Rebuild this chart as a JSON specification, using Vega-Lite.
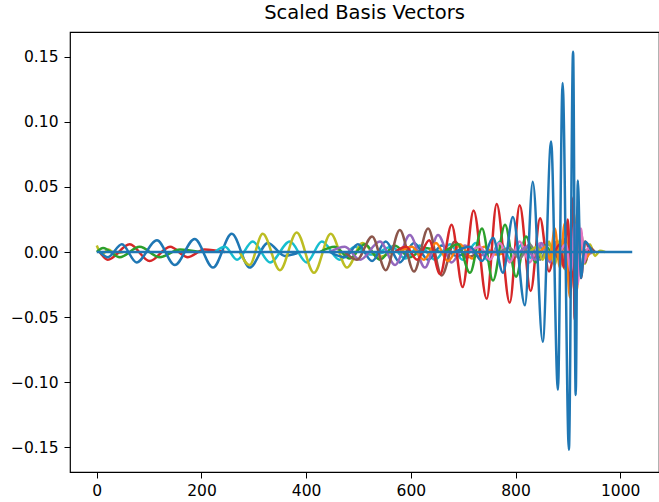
{
  "$schema": "https://vega.github.io/schema/vega-lite/v6.json",
  "width": 589,
  "height": 440,
  "autosize": {"type": "none"},
  "padding": {"left": 70, "top": 32, "right": 0, "bottom": 30},
  "background": "white",
  "title": {"text": "Scaled Basis Vectors", "fontSize": 19.5, "font": "DejaVu Sans", "fontWeight": "normal", "color": "black", "anchor": "middle", "offset": 9},
  "config": {
    "view": {"stroke": "black", "strokeWidth": 1.2},
    "axis": {"domain": false, "grid": false, "ticks": true, "tickColor": "black", "tickSize": 6, "tickWidth": 1, "labelFont": "DejaVu Sans", "labelFontSize": 15.5, "labelColor": "black", "title": null}
  },
  "data": {"values": [
    {"s":"s01","x":0,"y":0.005},{"s":"s01","x":10,"y":-0.002},{"s":"s01","x":22,"y":0.002},{"s":"s01","x":35,"y":-0.001},{"s":"s01","x":50,"y":0},
    {"s":"s02","x":6,"y":0},{"s":"s02","x":21,"y":-0.006},{"s":"s02","x":63,"y":0.006},{"s":"s02","x":101,"y":-0.007},{"s":"s02","x":140,"y":0.004},{"s":"s02","x":174,"y":-0.004},{"s":"s02","x":206,"y":0.002},{"s":"s02","x":245,"y":0},
    {"s":"s03","x":0,"y":0},{"s":"s03","x":12,"y":0.003},{"s":"s03","x":44,"y":-0.004},{"s":"s03","x":82,"y":0.004},{"s":"s03","x":120,"y":-0.004},{"s":"s03","x":159,"y":0.002},{"s":"s03","x":197,"y":0},
    {"s":"s04","x":6,"y":0},{"s":"s04","x":21,"y":-0.004},{"s":"s04","x":48,"y":0.006},{"s":"s04","x":76,"y":-0.008},{"s":"s04","x":115,"y":0.009},{"s":"s04","x":149,"y":-0.010},{"s":"s04","x":187,"y":0.010},{"s":"s04","x":222,"y":-0.012},{"s":"s04","x":258,"y":0.014},{"s":"s04","x":292,"y":-0.012},{"s":"s04","x":327,"y":0.007},{"s":"s04","x":359,"y":-0.003},{"s":"s04","x":388,"y":0},
    {"s":"s05","x":226,"y":0},{"s":"s05","x":245,"y":0.004},{"s":"s05","x":268,"y":-0.006},{"s":"s05","x":298,"y":0.008},{"s":"s05","x":331,"y":-0.008},{"s":"s05","x":369,"y":0.008},{"s":"s05","x":401,"y":-0.008},{"s":"s05","x":430,"y":0.008},{"s":"s05","x":464,"y":-0.006},{"s":"s05","x":493,"y":0.004},{"s":"s05","x":522,"y":-0.002},{"s":"s05","x":550,"y":0},
    {"s":"s06","x":273,"y":0},{"s":"s06","x":292,"y":-0.010},{"s":"s06","x":317,"y":0.014},{"s":"s06","x":350,"y":-0.014},{"s":"s06","x":382,"y":0.015},{"s":"s06","x":415,"y":-0.016},{"s":"s06","x":447,"y":0.014},{"s":"s06","x":478,"y":-0.012},{"s":"s06","x":508,"y":0.007},{"s":"s06","x":537,"y":-0.004},{"s":"s06","x":564,"y":0},
    {"s":"s07","x":426,"y":0},{"s":"s07","x":455,"y":0.004},{"s":"s07","x":483,"y":-0.005},{"s":"s07","x":512,"y":0.006},{"s":"s07","x":541,"y":-0.006},{"s":"s07","x":569,"y":0.005},{"s":"s07","x":598,"y":-0.004},{"s":"s07","x":627,"y":0.003},{"s":"s07","x":655,"y":0},
    {"s":"s08","x":541,"y":0},{"s":"s08","x":564,"y":0.004},{"s":"s08","x":589,"y":-0.005},{"s":"s08","x":617,"y":0.005},{"s":"s08","x":646,"y":-0.006},{"s":"s08","x":675,"y":0.006},{"s":"s08","x":699,"y":-0.006},{"s":"s08","x":724,"y":0.007},{"s":"s08","x":749,"y":-0.007},{"s":"s08","x":770,"y":0.008},{"s":"s08","x":793,"y":-0.007},{"s":"s08","x":812,"y":0.006},{"s":"s08","x":831,"y":-0.005},{"s":"s08","x":850,"y":0.004},{"s":"s08","x":869,"y":-0.003},{"s":"s08","x":889,"y":0},
    {"s":"s09","x":445,"y":0},{"s":"s09","x":474,"y":-0.004},{"s":"s09","x":499,"y":0.006},{"s":"s09","x":526,"y":-0.007},{"s":"s09","x":552,"y":0.008},{"s":"s09","x":579,"y":-0.008},{"s":"s09","x":606,"y":0.007},{"s":"s09","x":633,"y":-0.006},{"s":"s09","x":659,"y":0.005},{"s":"s09","x":686,"y":-0.003},{"s":"s09","x":713,"y":0},
    {"s":"s10","x":445,"y":0},{"s":"s10","x":474,"y":0.004},{"s":"s10","x":503,"y":-0.006},{"s":"s10","x":541,"y":0.008},{"s":"s10","x":570,"y":-0.010},{"s":"s10","x":598,"y":0.013},{"s":"s10","x":627,"y":-0.012},{"s":"s10","x":652,"y":0.013},{"s":"s10","x":678,"y":-0.008},{"s":"s10","x":703,"y":0.005},{"s":"s10","x":728,"y":-0.003},{"s":"s10","x":751,"y":0},
    {"s":"s11","x":474,"y":0},{"s":"s11","x":497,"y":-0.006},{"s":"s11","x":526,"y":0.012},{"s":"s11","x":552,"y":-0.014},{"s":"s11","x":579,"y":0.017},{"s":"s11","x":606,"y":-0.015},{"s":"s11","x":633,"y":0.018},{"s":"s11","x":659,"y":-0.018},{"s":"s11","x":684,"y":0.008},{"s":"s11","x":707,"y":-0.004},{"s":"s11","x":732,"y":0},
    {"s":"s12","x":579,"y":0},{"s":"s12","x":602,"y":0.004},{"s":"s12","x":625,"y":-0.006},{"s":"s12","x":648,"y":0.007},{"s":"s12","x":671,"y":-0.007},{"s":"s12","x":694,"y":0.006},{"s":"s12","x":717,"y":-0.005},{"s":"s12","x":740,"y":0.004},{"s":"s12","x":762,"y":-0.002},{"s":"s12","x":785,"y":0},
    {"s":"s13","x":570,"y":0},{"s":"s13","x":591,"y":0.004},{"s":"s13","x":612,"y":-0.006},{"s":"s13","x":635,"y":0.009},{"s":"s13","x":656,"y":-0.017},{"s":"s13","x":678,"y":0.021},{"s":"s13","x":699,"y":-0.027},{"s":"s13","x":720,"y":0.032},{"s":"s13","x":745,"y":-0.036},{"s":"s13","x":764,"y":0.037},{"s":"s13","x":789,"y":-0.039},{"s":"s13","x":808,"y":0.036},{"s":"s13","x":829,"y":-0.030},{"s":"s13","x":847,"y":0.026},{"s":"s13","x":864,"y":-0.015},{"s":"s13","x":879,"y":0.008},{"s":"s13","x":894,"y":-0.004},{"s":"s13","x":908,"y":0},
    {"s":"s14","x":665,"y":0},{"s":"s14","x":690,"y":0.006},{"s":"s14","x":713,"y":-0.016},{"s":"s14","x":736,"y":0.018},{"s":"s14","x":757,"y":-0.022},{"s":"s14","x":780,"y":0.021},{"s":"s14","x":801,"y":-0.019},{"s":"s14","x":820,"y":0.012},{"s":"s14","x":839,"y":-0.008},{"s":"s14","x":856,"y":0.005},{"s":"s14","x":875,"y":-0.003},{"s":"s14","x":894,"y":0},
    {"s":"s15","x":713,"y":0},{"s":"s15","x":732,"y":0.004},{"s":"s15","x":751,"y":-0.006},{"s":"s15","x":770,"y":0.007},{"s":"s15","x":789,"y":-0.008},{"s":"s15","x":808,"y":0.008},{"s":"s15","x":827,"y":-0.008},{"s":"s15","x":847,"y":0.007},{"s":"s15","x":864,"y":-0.006},{"s":"s15","x":881,"y":0.005},{"s":"s15","x":896,"y":-0.003},{"s":"s15","x":913,"y":0},
    {"s":"s16","x":770,"y":0},{"s":"s16","x":789,"y":0.003},{"s":"s16","x":808,"y":-0.005},{"s":"s16","x":827,"y":0.006},{"s":"s16","x":847,"y":-0.006},{"s":"s16","x":864,"y":0.006},{"s":"s16","x":879,"y":-0.005},{"s":"s16","x":894,"y":0.004},{"s":"s16","x":910,"y":-0.003},{"s":"s16","x":925,"y":0.002},{"s":"s16","x":942,"y":0},
    {"s":"s17","x":808,"y":0},{"s":"s17","x":822,"y":0.004},{"s":"s17","x":837,"y":-0.006},{"s":"s17","x":850,"y":0.007},{"s":"s17","x":866,"y":-0.008},{"s":"s17","x":879,"y":0.008},{"s":"s17","x":891,"y":-0.007},{"s":"s17","x":902,"y":0.006},{"s":"s17","x":913,"y":-0.006},{"s":"s17","x":925,"y":0.004},{"s":"s17","x":936,"y":-0.002},{"s":"s17","x":948,"y":0},
    {"s":"s18","x":828,"y":0},{"s":"s18","x":841,"y":0.004},{"s":"s18","x":852,"y":-0.006},{"s":"s18","x":864,"y":0.008},{"s":"s18","x":875,"y":-0.010},{"s":"s18","x":885,"y":0.010},{"s":"s18","x":894,"y":-0.013},{"s":"s18","x":904,"y":0.012},{"s":"s18","x":913,"y":-0.014},{"s":"s18","x":923,"y":0.012},{"s":"s18","x":933,"y":-0.009},{"s":"s18","x":942,"y":0.006},{"s":"s18","x":952,"y":-0.003},{"s":"s18","x":961,"y":0.001},{"s":"s18","x":971,"y":0},
    {"s":"s19","x":875,"y":0},{"s":"s19","x":885,"y":-0.006},{"s":"s19","x":894,"y":0.010},{"s":"s19","x":902,"y":-0.015},{"s":"s19","x":910,"y":0.018},{"s":"s19","x":917,"y":-0.020},{"s":"s19","x":925,"y":0.015},{"s":"s19","x":933,"y":-0.008},{"s":"s19","x":942,"y":0.003},{"s":"s19","x":952,"y":0},
    {"s":"s20","x":847,"y":0},{"s":"s20","x":858,"y":0.004},{"s":"s20","x":866,"y":-0.006},{"s":"s20","x":875,"y":0.018},{"s":"s20","x":885,"y":-0.012},{"s":"s20","x":894,"y":0.022},{"s":"s20","x":904,"y":-0.035},{"s":"s20","x":912,"y":0.030},{"s":"s20","x":917,"y":-0.030},{"s":"s20","x":923,"y":0.015},{"s":"s20","x":931,"y":-0.006},{"s":"s20","x":942,"y":0},
    {"s":"s21","x":875,"y":0},{"s":"s21","x":885,"y":0.006},{"s":"s21","x":892,"y":-0.012},{"s":"s21","x":900,"y":0.025},{"s":"s21","x":906,"y":-0.030},{"s":"s21","x":910,"y":0.042},{"s":"s21","x":913,"y":-0.052},{"s":"s21","x":919,"y":0.035},{"s":"s21","x":925,"y":-0.020},{"s":"s21","x":933,"y":0.008},{"s":"s21","x":942,"y":0},
    {"s":"s22","x":885,"y":0},{"s":"s22","x":896,"y":0.006},{"s":"s22","x":906,"y":-0.015},{"s":"s22","x":913,"y":0.022},{"s":"s22","x":919,"y":-0.025},{"s":"s22","x":925,"y":0.018},{"s":"s22","x":931,"y":-0.008},{"s":"s22","x":938,"y":0.003},{"s":"s22","x":946,"y":0},
    {"s":"s23","x":684,"y":0},{"s":"s23","x":713,"y":0.004},{"s":"s23","x":736,"y":-0.007},{"s":"s23","x":757,"y":0.011},{"s":"s23","x":776,"y":-0.016},{"s":"s23","x":795,"y":0.027},{"s":"s23","x":818,"y":-0.041},{"s":"s23","x":833,"y":0.054},{"s":"s23","x":852,"y":-0.069},{"s":"s23","x":868,"y":0.085},{"s":"s23","x":881,"y":-0.106},{"s":"s23","x":890,"y":0.130},{"s":"s23","x":902,"y":-0.152},{"s":"s23","x":910,"y":0.154},{"s":"s23","x":915,"y":-0.110},{"s":"s23","x":919,"y":0.055},{"s":"s23","x":925,"y":-0.020},{"s":"s23","x":933,"y":0.008},{"s":"s23","x":946,"y":0},
    {"s":"s24","x":0,"y":0},{"s":"s24","x":1023,"y":0}
  ]},
  "mark": {"type": "line", "interpolate": "monotone", "strokeWidth": 2.5, "clip": true},
  "encoding": {
    "x": {"field": "x", "type": "quantitative", "scale": {"domain": [-51.15, 1074.15], "nice": false, "zero": false}, "axis": {"values": [0, 200, 400, 600, 800, 1000], "format": "d", "labelPadding": 5}},
    "y": {"field": "y", "type": "quantitative", "scale": {"domain": [-0.1692, 0.1692], "nice": false, "zero": false}, "axis": {"values": [-0.15, -0.1, -0.05, 0, 0.05, 0.1, 0.15], "format": ".2f", "labelPadding": 6}},
    "color": {"field": "s", "type": "nominal", "legend": null, "scale": {
      "domain": ["s01","s02","s03","s04","s05","s06","s07","s08","s09","s10","s11","s12","s13","s14","s15","s16","s17","s18","s19","s20","s21","s22","s23","s24"],
      "range": ["#bcbd22","#d62728","#2ca02c","#1f77b4","#17becf","#bcbd22","#2ca02c","#17becf","#1f77b4","#9467bd","#8c564b","#ff7f0e","#d62728","#2ca02c","#e377c2","#7f7f7f","#9467bd","#bcbd22","#8c564b","#ff7f0e","#d62728","#e377c2","#1f77b4","#1f77b4"]
    }}
  }
}
